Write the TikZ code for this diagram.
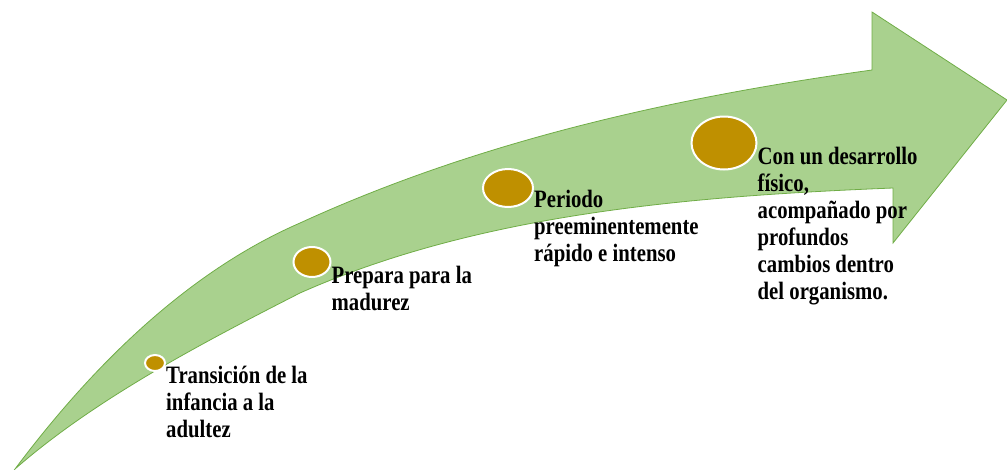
\documentclass[tikz,border=0pt]{standalone}
\usepackage{fontspec}
\newfontfamily\stagefont{Liberation Serif}[FakeStretch=0.83]
\usetikzlibrary{shapes.geometric,positioning}
\definecolor{arrowfill}{HTML}{A9D18E}
\definecolor{arrowedge}{HTML}{70AD47}
\definecolor{dotgold}{HTML}{BF9000}
\begin{document}
\begin{tikzpicture}[
	x=1pt,y=-1pt,
	dot/.style={ellipse,draw=white,line width=2pt,fill=dotgold,inner sep=0pt},
	stage/.style={anchor=north west,align=left,inner sep=0pt,text=black,
		font=\stagefont\bfseries\fontsize{25}{27}\selectfont},
	]
\useasboundingbox (0,0) rectangle (1007,469);
\filldraw[fill=arrowfill,draw=arrowedge,line width=0.8pt] (15,469)
  .. controls (90,369) and (185,273) .. (300,223)
  .. controls (481,140) and (677,97) .. (872,70)
  -- (872,12) -- (1007,100) -- (893,243) -- (893,188)
  .. controls (693,196) and (480,213) .. (300,293)
  .. controls (202,343) and (95,399) .. (15,469) -- cycle;
\node [dot,minimum width=20pt,minimum height=16pt] (p1) at (155,363) {};
\node [dot,minimum width=37pt,minimum height=30pt] (p2) at (312,262) {};
\node [dot,minimum width=50pt,minimum height=38pt] (p3) at (508,188) {};
\node [dot,minimum width=65pt,minimum height=53pt] (p4) at (724,143) {};
\node [stage] (t1) at ([yshift=-3pt]p1.east) {Transición de la\\infancia a la\\adultez};
\node [stage] (t2) at ([yshift=-4pt]p2.east) {Prepara para la\\madurez};
\node [stage] (t3) at ([yshift=-2pt]p3.east) {Periodo\\preeminentemente\\rápido e intenso};
\node [stage] (t4) at ([yshift=-4pt]p4.east) {Con un desarrollo\\físico,\\acompañado por\\profundos\\cambios dentro\\del organismo.};
\end{tikzpicture}
\end{document}
